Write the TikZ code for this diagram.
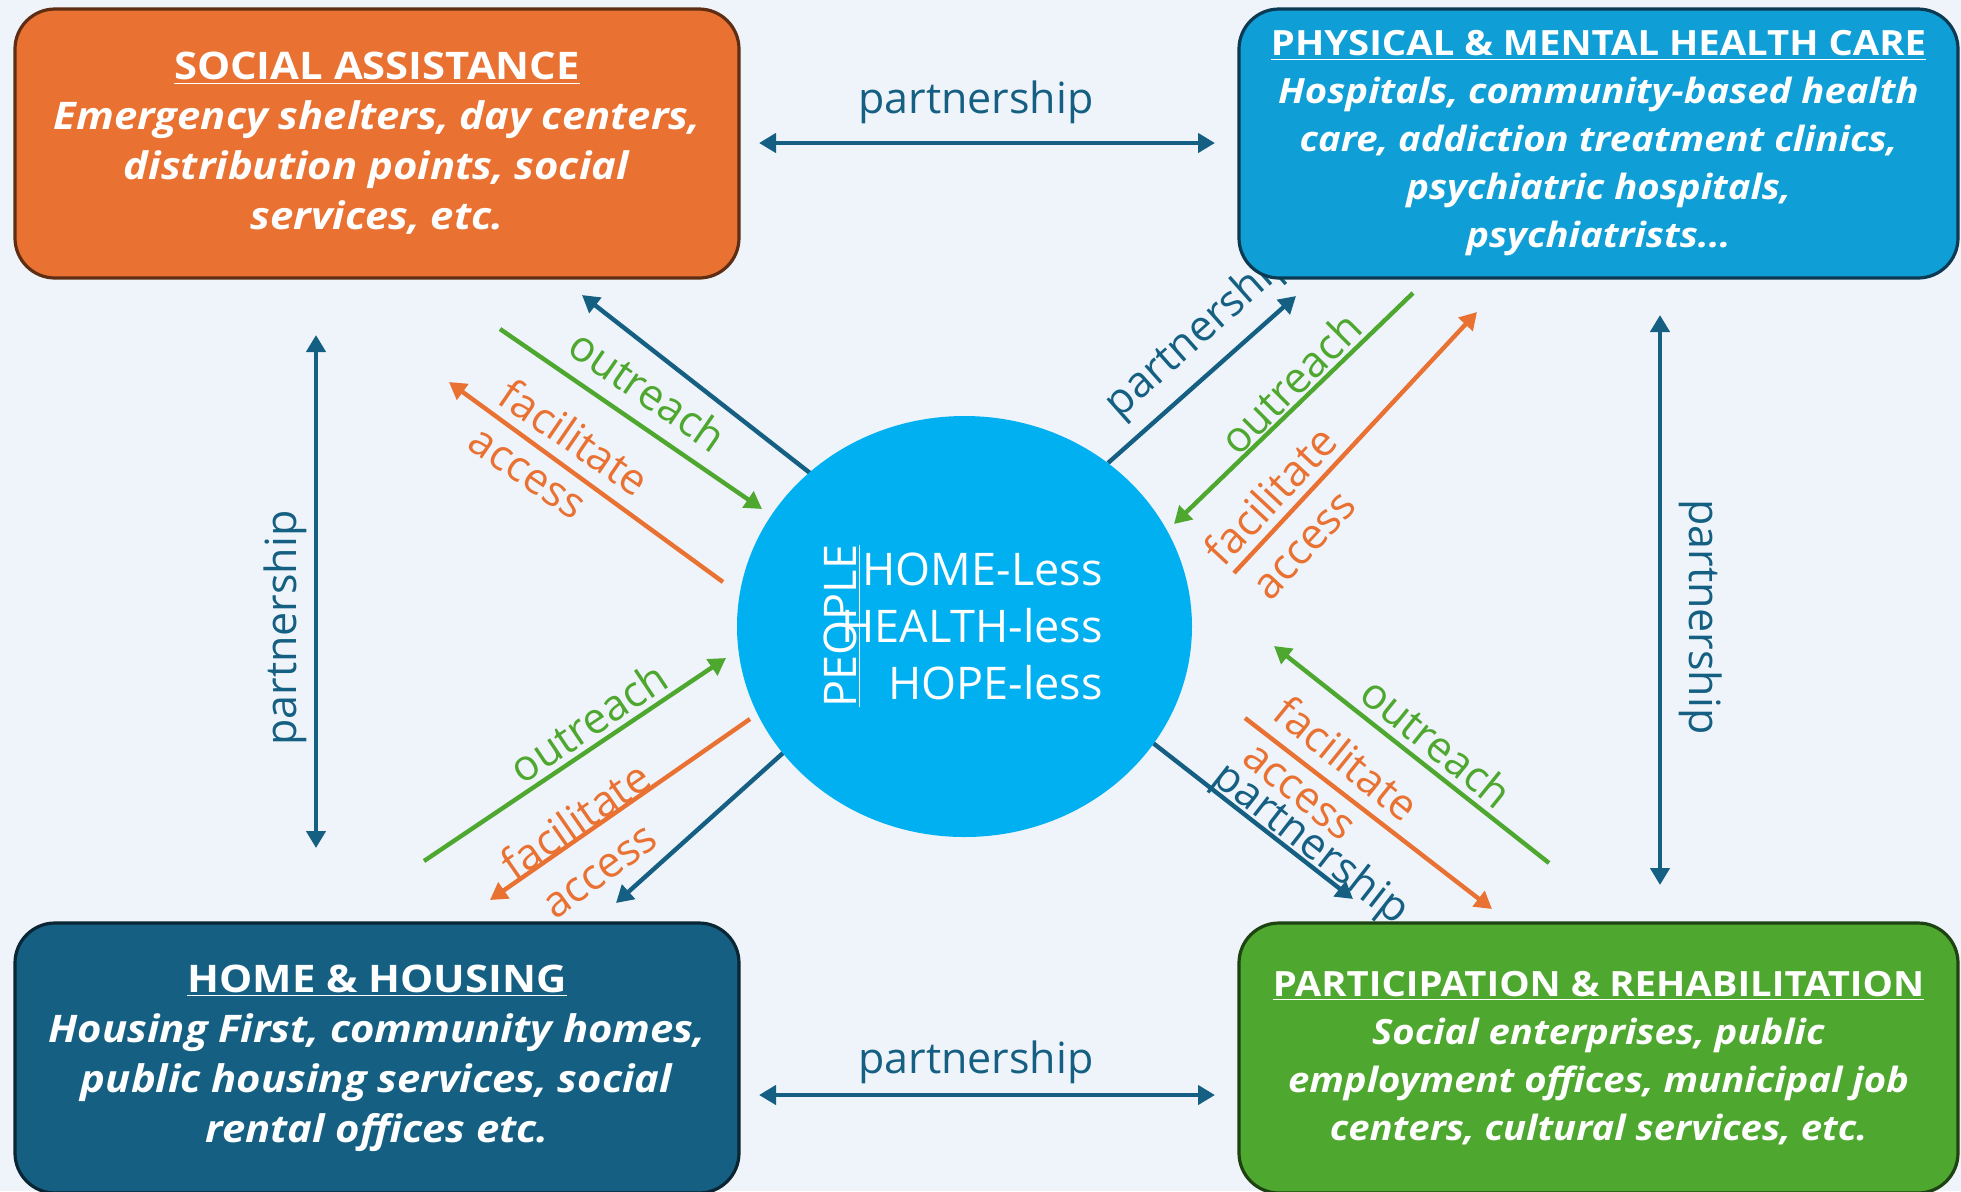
\documentclass[tikz,border=0pt]{standalone}
\usepackage{fontspec}
\setmainfont{Open Sans}
\newfontfamily\boxfont[FakeStretch=1.1]{Open Sans}
\usetikzlibrary{arrows.meta,shapes.geometric}
\definecolor{bgc}{HTML}{EFF4FB}
\definecolor{orF}{HTML}{E97132}
\definecolor{orD}{HTML}{5E2E14}
\definecolor{hbF}{HTML}{0F9ED5}
\definecolor{hbD}{HTML}{0B3A52}
\definecolor{dbF}{HTML}{156082}
\definecolor{dbD}{HTML}{0A2533}
\definecolor{grF}{HTML}{4EA72E}
\definecolor{grD}{HTML}{1E4212}
\definecolor{circ}{HTML}{00B0F0}
\tikzset{
  box/.style={draw, line width=1.6pt, rounded corners=20pt, inner sep=0pt, align=center,
    text=white},
  lbox/.style={box, font=\boxfont\fontsize{19}{25}\selectfont\bfseries},
  rbox/.style={box, font=\boxfont\fontsize{17.4}{24}\selectfont\bfseries},
  arr/.style={line width=2.2pt, -{Triangle[length=8.5pt,width=9.5pt]}},
  darr/.style={line width=2.2pt, {Triangle[length=8.5pt,width=9.5pt]}-{Triangle[length=8.5pt,width=9.5pt]}},
  lab/.style={font=\fontsize{21.5}{26}\selectfont, inner sep=0pt},
  ctr/.style={text=white, font=\fontsize{22.5}{28}\selectfont, inner sep=0pt},
}
\begin{document}
\begin{tikzpicture}[x=0.5pt,y=-0.5pt]
\fill[bgc] (0,0) rectangle (1961,1191);
\useasboundingbox (0,0) rectangle (1961,1191);

% coordinates
\coordinate (h1a) at (759,143); \coordinate (h1b) at (1215,143);
\coordinate (h2a) at (759,1095); \coordinate (h2b) at (1215,1095);
\coordinate (v1a) at (316,335); \coordinate (v1b) at (316,848);
\coordinate (v2a) at (1660,315); \coordinate (v2b) at (1660,885);
% top-left
\coordinate (tlBa) at (810,473); \coordinate (tlBb) at (582,295);
\coordinate (tlGa) at (500,329); \coordinate (tlGb) at (762,509);
\coordinate (tlOa) at (723,582); \coordinate (tlOb) at (449,382);
% top-right
\coordinate (trBa) at (1108,463); \coordinate (trBb) at (1296,296);
\coordinate (trGa) at (1413,293); \coordinate (trGb) at (1174,524);
\coordinate (trOa) at (1234,573); \coordinate (trOb) at (1477,312);
% bottom-left
\coordinate (blGa) at (424,861); \coordinate (blGb) at (726,658);
\coordinate (blOa) at (750,719); \coordinate (blOb) at (490,900);
\coordinate (blBa) at (783,753); \coordinate (blBb) at (616,903);
% bottom-right
\coordinate (brBa) at (1153,743); \coordinate (brBb) at (1353,899);
\coordinate (brOa) at (1245,718); \coordinate (brOb) at (1492,909);
\coordinate (brGa) at (1549,863); \coordinate (brGb) at (1274,646);

% partnership arrows
\draw[darr, dbF] (h1a) -- (h1b);
\draw[darr, dbF] (h2a) -- (h2b);
\draw[darr, dbF] (v1a) -- (v1b);
\draw[darr, dbF] (v2a) -- (v2b);
\node[lab, text=dbF] (ph1) at (976,102) {partnership};
\node[lab, text=dbF] (ph2) at (976,1062) {partnership};
\node[lab, text=dbF, rotate=90] (pv1) at (285,628) {partnership};
\node[lab, text=dbF, rotate=-90] (pv2) at (1701,617) {partnership};

% top-left group
\draw[arr, dbF] (tlBa) -- (tlBb);
\draw[arr, grF] (tlGa) -- (tlGb);
\draw[arr, orF] (tlOa) -- (tlOb);
\node[lab, text=grF, rotate=-34.5] (tlo) at (648,390) {outreach};
\node[lab, text=orF, rotate=-34.5] (tlf) at (575,437) {facilitate};
\node[lab, text=orF, rotate=-34.5] (tla) at (526,475) {access};

% top-right group
\draw[arr, dbF] (trBa) -- (trBb);
\draw[arr, grF] (trGa) -- (trGb);
\draw[arr, orF] (trOa) -- (trOb);
\node[lab, text=dbF, rotate=41.6] (trp) at (1200,333) {partnership};
\node[lab, text=grF, rotate=45] (tro) at (1290,383) {outreach};
\node[lab, text=orF, rotate=47] (trf) at (1270,495) {facilitate};
\node[lab, text=orF, rotate=47] (tra) at (1306,547) {access};

% bottom-left group
\draw[arr, grF] (blGa) -- (blGb);
\draw[arr, orF] (blOa) -- (blOb);
\draw[arr, dbF] (blBa) -- (blBb);
\node[lab, text=grF, rotate=33.8] (blo) at (588,722) {outreach};
\node[lab, text=orF, rotate=34.8] (blf) at (575,820) {facilitate};
\node[lab, text=orF, rotate=36] (bla) at (601,873) {access};

% bottom-right group
\draw[arr, dbF] (brBa) -- (brBb);
\draw[arr, orF] (brOa) -- (brOb);
\draw[arr, grF] (brGa) -- (brGb);
\node[lab, text=grF, rotate=-39] (bro) at (1437,742) {outreach};
\node[lab, text=orF, rotate=-39] (brf) at (1347,758) {facilitate};
\node[lab, text=orF, rotate=-39] (bra) at (1298,793) {access};
\node[lab, text=dbF, rotate=-38] (brp) at (1310,845) {partnership};

% boxes
\node[lbox, fill=orF, draw=orD, minimum width=362pt, minimum height=134.5pt] (soc) at (377,143.5)
  {\underline{SOCIAL ASSISTANCE}\\ \textit{Emergency shelters, day centers,}\\ \textit{distribution points, social}\\ \textit{services, etc.}};
\node[rbox, fill=hbF, draw=hbD, minimum width=359.5pt, minimum height=134.5pt] (hea) at (1598.5,143.5)
  {\underline{PHYSICAL \& MENTAL HEALTH CARE}\\ \textit{Hospitals, community-based health}\\ \textit{care, addiction treatment clinics,}\\ \textit{psychiatric hospitals,}\\ \textit{psychiatrists...}};
\node[lbox, fill=dbF, draw=dbD, minimum width=362pt, minimum height=135pt] (hom) at (377,1058)
  {\underline{HOME \& HOUSING}\\ \textit{Housing First, community homes,}\\ \textit{public housing services, social}\\ \textit{rental offices etc.}};
\node[rbox, fill=grF, draw=grD, minimum width=359.5pt, minimum height=135pt] (par) at (1598.5,1058)
  {\underline{PARTICIPATION \& REHABILITATION}\\ \textit{Social enterprises, public}\\ \textit{employment offices, municipal job}\\ \textit{centers, cultural services, etc.}};

% centre
\node[ellipse, fill=circ, minimum width=227.5pt, minimum height=210.5pt, inner sep=0pt] (ppl) at (964.5,626.5) {};
\node[ctr, anchor=base east] (l1) at (1103,585) {HOME-Less};
\node[ctr, anchor=base east] (l2) at (1103,642) {HEALTH-less};
\node[ctr, anchor=base east] (l3) at (1103,699) {HOPE-less};
\node[ctr, rotate=90, anchor=base] (pp) at (856,626) {\underline{PEOPLE}};
\end{tikzpicture}
\end{document}
